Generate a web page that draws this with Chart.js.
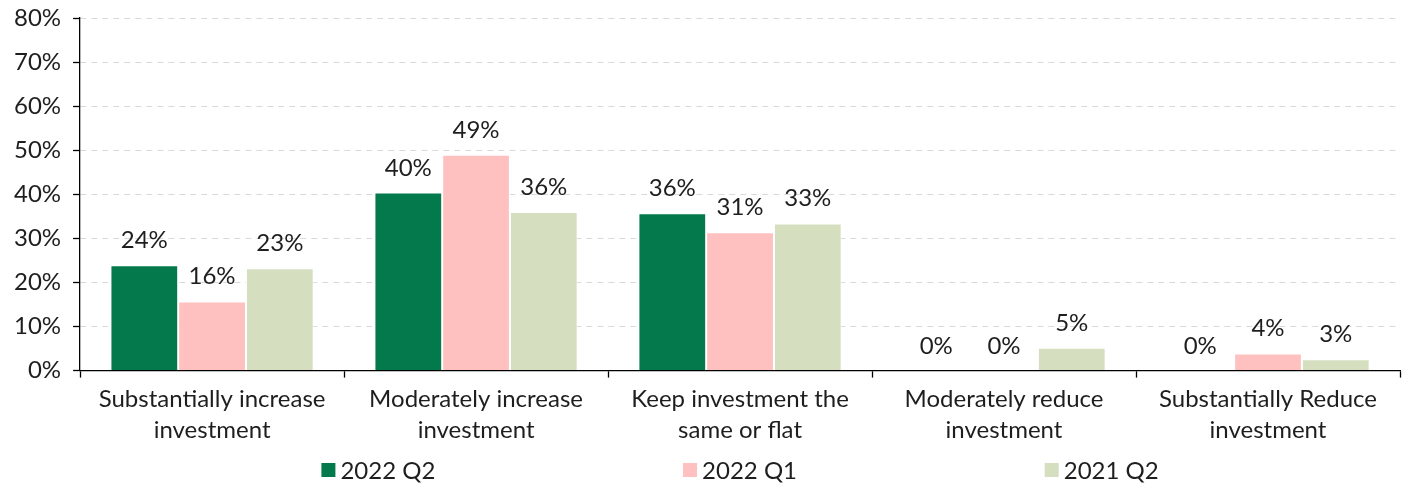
<!DOCTYPE html>
<html lang="en">
<head>
    <meta charset="UTF-8">
    <title>Investment plans</title>
    <style>
        html, body { margin: 0; padding: 0; background: #fff; }
        #wrap { width: 1404px; height: 489px; }
    </style>
    <script src="https://cdn.jsdelivr.net/npm/chart.js"></script>
</head>
<body>
    <div id="wrap"><canvas id="grafico" width="1404" height="489"></canvas></div>

    <script>
        const categorie = [
            ['Substantially increase', 'investment'],
            ['Moderately increase', 'investment'],
            ['Keep investment the', 'same or flat'],
            ['Moderately reduce', 'investment'],
            ['Substantially Reduce', 'investment']
        ];
        const serie = ['2022 Q2', '2022 Q1', '2021 Q2'];
        const valori2022Q2 = [23.9, 40.4, 35.7, 0, 0];
        const valori2022Q1 = [15.7, 49.0, 31.4, 0, 3.9];
        const valori2021Q2 = [23.2, 36.0, 33.4, 5.2, 2.6];
        const colori = ['#047a4c', '#ffc0c0', '#d5dfc0'];
        const yTicks = [0, 10, 20, 30, 40, 50, 60, 70, 80];

        const FONT = 'Lato, "Noto Sans", sans-serif';
        const SIZE = 24;
        const TESTO = '#1e1e1e';

        // etichette sopra le barre
        const etichette = {
            id: 'etichette',
            afterDatasetsDraw(chart) {
                const ctx = chart.ctx;
                ctx.save();
                ctx.font = SIZE + 'px ' + FONT;
                ctx.fillStyle = TESTO;
                ctx.textAlign = 'center';
                ctx.textBaseline = 'alphabetic';
                chart.data.datasets.forEach((ds, i) => {
                    chart.getDatasetMeta(i).data.forEach((bar, j) => {
                        ctx.fillText(Math.round(ds.data[j]) + '%', bar.x, bar.y - 17);
                    });
                });
                ctx.restore();
            }
        };

        // legenda distribuita in basso
        const legenda = {
            id: 'legenda',
            afterDraw(chart) {
                const ctx = chart.ctx;
                const area = chart.chartArea;
                const centro = (area.left + area.right) / 2;
                const passo = (area.right - area.left) * 0.274;
                const y = chart.height - 19;
                ctx.save();
                ctx.font = SIZE + 'px ' + FONT;
                ctx.textBaseline = 'middle';
                ctx.textAlign = 'left';
                chart.data.datasets.forEach((ds, i) => {
                    const w = 14 + 5 + ctx.measureText(ds.label).width;
                    const x0 = centro + (i - 1) * passo - w / 2;
                    ctx.fillStyle = ds.backgroundColor;
                    ctx.fillRect(x0, y - 7, 14, 14);
                    ctx.fillStyle = TESTO;
                    ctx.fillText(ds.label, x0 + 19, y + 1);
                });
                ctx.restore();
            }
        };

        const ctx = document.getElementById('grafico').getContext('2d');
        new Chart(ctx, {
            type: 'bar',
            data: {
                labels: categorie,
                datasets: [valori2022Q2, valori2022Q1, valori2021Q2].map((d, i) => ({
                    label: serie[i],
                    data: d,
                    backgroundColor: colori[i],
                    borderColor: '#ffffff',
                    borderWidth: 1,
                    categoryPercentage: 0.77,
                    barPercentage: 1.0
                }))
            },
            options: {
                responsive: false,
                animation: false,
                layout: { padding: { top: 6, right: 4, bottom: 37, left: 2 } },
                plugins: {
                    legend: { display: false },
                    tooltip: { enabled: false }
                },
                scales: {
                    x: {
                        grid: {
                            offset: true,
                            drawOnChartArea: false,
                            drawTicks: true,
                            tickLength: 7,
                            tickColor: '#000',
                            tickWidth: 1.3
                        },
                        border: { color: '#000', width: 1.3 },
                        ticks: {
                            color: TESTO,
                            font: { family: FONT, size: SIZE, lineHeight: 1.3 },
                            padding: 6,
                            maxRotation: 0
                        }
                    },
                    y: {
                        min: 0,
                        max: 80,
                        afterBuildTicks(scale) {
                            scale.ticks = yTicks.map(v => ({ value: v }));
                        },
                        grid: {
                            color: '#d9d9d9',
                            lineWidth: 1,
                            tickLength: 7,
                            tickColor: '#000',
                            tickWidth: 1.3,
                            tickBorderDash: []
                        },
                        border: { color: '#000', width: 1.3, dash: [6, 5] },
                        ticks: {
                            color: TESTO,
                            font: { family: FONT, size: SIZE, lineHeight: 0.5 },
                            padding: 12,
                            callback: v => v + '%'
                        }
                    }
                }
            },
            plugins: [etichette, legenda]
        });
    </script>
</body>
</html>
